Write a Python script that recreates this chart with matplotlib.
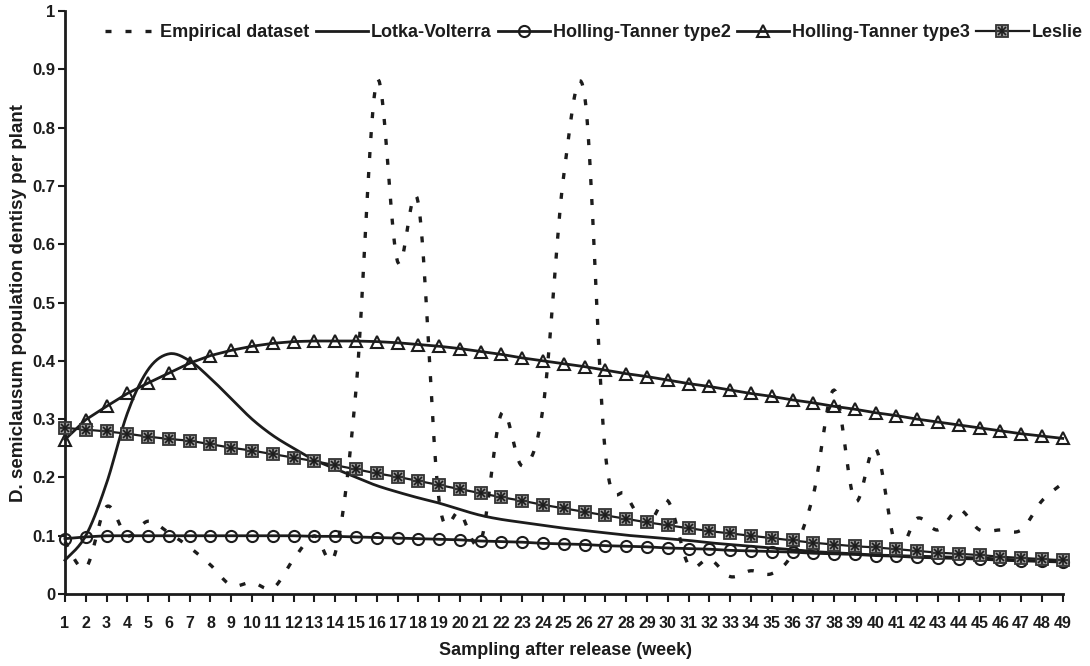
import numpy as np
import matplotlib
matplotlib.use('Agg')
import matplotlib.pyplot as plt
from matplotlib.legend_handler import HandlerTuple

plt.rcParams['font.family'] = ['Liberation Sans', 'DejaVu Sans']
plt.rcParams['font.weight'] = 'bold'

weeks = list(range(1, 50))

empirical = [0.09, 0.045, 0.15, 0.10, 0.125, 0.105, 0.08, 0.05, 0.015, 0.02,
             0.01, 0.06, 0.10, 0.07, 0.35, 0.88, 0.57, 0.67, 0.16, 0.14,
             0.09, 0.31, 0.22, 0.32, 0.72, 0.855, 0.24, 0.17, 0.12, 0.16,
             0.05, 0.06, 0.03, 0.04, 0.035, 0.07, 0.17, 0.35, 0.16, 0.25,
             0.08, 0.13, 0.11, 0.145, 0.11, 0.11, 0.11, 0.16, 0.19]

lotka = [0.058, 0.10, 0.19, 0.31, 0.385, 0.412, 0.40, 0.37, 0.335, 0.30,
         0.272, 0.25, 0.23, 0.215, 0.20, 0.186, 0.175, 0.165, 0.156, 0.145,
         0.135, 0.128, 0.123, 0.118, 0.113, 0.109, 0.105, 0.101, 0.098, 0.095,
         0.092, 0.088, 0.085, 0.082, 0.079, 0.076, 0.073, 0.071, 0.069, 0.067,
         0.066, 0.065, 0.064, 0.063, 0.062, 0.060, 0.058, 0.057, 0.055]

ht2 = [0.095, 0.098, 0.100, 0.100, 0.100, 0.100, 0.100, 0.100, 0.100, 0.100,
       0.100, 0.100, 0.099, 0.099, 0.098, 0.097, 0.096, 0.095, 0.094, 0.093,
       0.091, 0.090, 0.089, 0.087, 0.086, 0.085, 0.083, 0.082, 0.081, 0.079,
       0.078, 0.077, 0.075, 0.074, 0.073, 0.072, 0.070, 0.069, 0.068, 0.066,
       0.065, 0.063, 0.062, 0.061, 0.060, 0.058, 0.057, 0.056, 0.055]

ht3 = [0.265, 0.299, 0.322, 0.344, 0.362, 0.379, 0.396, 0.409, 0.418, 0.425,
       0.430, 0.433, 0.434, 0.434, 0.434, 0.433, 0.431, 0.428, 0.425, 0.421,
       0.416, 0.411, 0.405, 0.400, 0.395, 0.390, 0.384, 0.378, 0.373, 0.367,
       0.361, 0.356, 0.350, 0.344, 0.339, 0.333, 0.328, 0.322, 0.317, 0.311,
       0.306, 0.300, 0.295, 0.290, 0.285, 0.280, 0.275, 0.271, 0.267]

leslie = [0.285, 0.282, 0.279, 0.275, 0.270, 0.266, 0.263, 0.257, 0.251, 0.246,
          0.240, 0.234, 0.228, 0.221, 0.214, 0.207, 0.201, 0.194, 0.187, 0.180,
          0.173, 0.166, 0.160, 0.153, 0.147, 0.141, 0.135, 0.129, 0.123, 0.118,
          0.113, 0.108, 0.104, 0.100, 0.096, 0.092, 0.088, 0.085, 0.082, 0.080,
          0.077, 0.074, 0.071, 0.069, 0.067, 0.064, 0.062, 0.060, 0.058]

y_ticks = [0, 0.1, 0.2, 0.3, 0.4, 0.5, 0.6, 0.7, 0.8, 0.9, 1]
y_ticklabels = ['0', '0.1', '0.2', '0.3', '0.4', '0.5', '0.6', '0.7', '0.8', '0.9', '1']


# smoothed line like the spreadsheet one (bezier through the points)
def smooth(x, y, n=16):
    x = np.asarray(x, float)
    y = np.asarray(y, float)
    px = np.concatenate([[x[0]], x, [x[-1]]])
    py = np.concatenate([[y[0]], y, [y[-1]]])
    t = np.linspace(0, 1, n, endpoint=False)
    xs, ys = [], []
    for i in range(len(x) - 1):
        x0, x1, x2, x3 = px[i:i + 4]
        y0, y1, y2, y3 = py[i:i + 4]
        cx1, cy1 = x1 + (x2 - x0) / 6, y1 + (y2 - y0) / 6
        cx2, cy2 = x2 - (x3 - x1) / 6, y2 - (y3 - y1) / 6
        b0, b1, b2, b3 = (1 - t) ** 3, 3 * (1 - t) ** 2 * t, 3 * (1 - t) * t ** 2, t ** 3
        xs.append(b0 * x1 + b1 * cx1 + b2 * cx2 + b3 * x2)
        ys.append(b0 * y1 + b1 * cy1 + b2 * cy2 + b3 * y2)
    xs.append([x[-1]])
    ys.append([y[-1]])
    return np.concatenate(xs), np.concatenate(ys)


ink = '#1c1c1c'
fig = plt.figure(figsize=(10.9, 6.66), dpi=100)
ax = fig.add_axes([0.0596, 0.108, 0.9154, 0.8755])

ex, ey = smooth(weeks, empirical)
h_emp, = ax.plot(ex, ey, color=ink, lw=2.4, linestyle=(0, (1.8, 4.2)), clip_on=False, zorder=2)

lx, ly = smooth(weeks, lotka)
h_lv, = ax.plot(lx, ly, color=ink, lw=2.0, clip_on=False, zorder=3)

h_ht2, = ax.plot(weeks, ht2, color=ink, lw=2.0, marker='o', ms=8, mfc='none',
                 mec=ink, mew=1.5, clip_on=False, zorder=4)
h_ht3, = ax.plot(weeks, ht3, color=ink, lw=2.0, marker='^', ms=9, mfc='none',
                 mec=ink, mew=1.5, clip_on=False, zorder=4)

h_les, = ax.plot(weeks, leslie, color=ink, lw=1.6, marker='s', ms=9, mfc='#9a9a9a',
                 mec='#333333', mew=1.3, clip_on=False, zorder=5)
h_lx, = ax.plot(weeks, leslie, ls='none', marker='x', ms=6, mec=ink, mew=1.2,
                clip_on=False, zorder=6)
h_lp, = ax.plot(weeks, leslie, ls='none', marker='+', ms=7, mec=ink, mew=1.2,
                clip_on=False, zorder=6)

ax.set_xlim(1, 49)
ax.set_ylim(0, 1)
ax.set_xticks(weeks)
ax.set_xticklabels([str(w) for w in weeks], fontsize=11.5, fontweight='bold')
ax.set_yticks(y_ticks)
ax.set_yticklabels(y_ticklabels, fontsize=12, fontweight='bold')
ax.tick_params(axis='x', direction='out', length=6, width=1.5, pad=10, colors=ink)
ax.tick_params(axis='y', direction='out', length=5, width=1.5, pad=2, colors=ink)

for s in ['top', 'right']:
    ax.spines[s].set_visible(False)
for s in ['left', 'bottom']:
    ax.spines[s].set_linewidth(2)
    ax.spines[s].set_color(ink)

ax.set_xlabel('Sampling after release (week)', fontsize=13, fontweight='bold', color=ink)
ax.xaxis.set_label_coords(0.502, -0.083)
ax.set_ylabel('D. semiclausum population dentisy per plant', fontsize=13.5,
              fontweight='bold', color=ink)
ax.yaxis.set_label_coords(-0.038, 0.5)

fig.legend([h_emp, h_lv, h_ht2, h_ht3, (h_les, h_lx, h_lp)],
           ['Empirical dataset', 'Lotka-Volterra', 'Holling-Tanner type2',
            'Holling-Tanner type3', 'Leslie'],
           handler_map={tuple: HandlerTuple(ndivide=1)},
           loc='center left', bbox_to_anchor=(0.088, 0.951), ncol=5, frameon=False,
           borderpad=0, handlelength=2.9, handletextpad=0.15, columnspacing=0.35,
           numpoints=1, prop={'size': 13, 'weight': 'bold'}, labelcolor=ink)

fig.savefig('out.png', dpi=100, facecolor='white')
